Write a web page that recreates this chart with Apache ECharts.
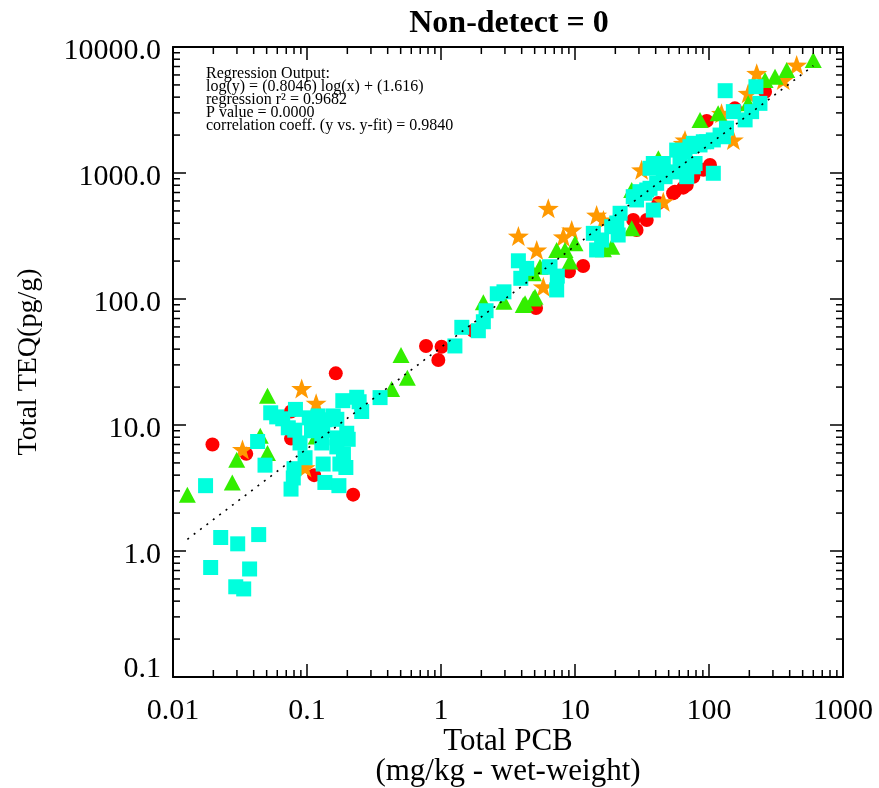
<!DOCTYPE html>
<html><head><meta charset="utf-8">
<script src="https://cdn.jsdelivr.net/npm/echarts@6/dist/echarts.min.js"></script>
<style>html,body{margin:0;padding:0;background:#fff}#c{width:879px;height:788px}</style>
</head><body><div id="c"></div>
<script>
// ---- data ----
const titleText = 'Non-detect = 0';
const xAxisName = 'Total PCB\n(mg/kg - wet-weight)';
const yAxisName = 'Total TEQ(pg/g)';
const xTickLabels = ['0.01','0.1','1','10','100','1000'];
const yTickLabels = ['0.1','1.0','10.0','100.0','1000.0','10000.0'];
const regressionLines = [
  'Regression Output:',
  'log(y) = (0.8046) log(x) + (1.616)',
  'regression r\u00B2 = 0.9682',
  'P value = 0.0000',
  'correlation coeff. (y vs. y-fit) = 0.9840'
];
const slope = 0.8046, intercept = 1.616;

const redCircles = [[0.0197,7.0],[0.0352,5.9],[0.076,12.8],[0.076,7.8],[0.113,4.0],[0.164,25.7],[0.221,2.8],
  [0.773,42.4],[1.01,41.8],[0.955,32.8],[1.74,56],[5.12,84.9],[11.5,183],[9.02,165],[27.2,424],[28.8,353],
  [34.3,424],[41.9,578],[55.7,711],[68.2,803],[90.7,1060],[101.7,1160],[156,3260],[96.1,2590],[262,4420],
  [76.4,935],[64.3,765],[54,690]];

const greenTriangles = [[0.0128,2.8],[0.0277,3.5],[0.0299,5.3],[0.0448,8.2],[0.0507,17.1],[0.0507,6.0],[0.117,8.1],
  [0.428,19.3],[0.503,35.9],[0.561,23.7],[2.07,94.3],[2.95,95.3],[4.11,89.6],[4.89,101],[4.89,160],[5.48,180],
  [7.30,245],[8.42,245],[10.0,277],[9.18,198],[5.03,104],[4.24,92.5],[18.8,260],[16.3,248],[26.5,733],[26.5,364],
  [41.9,1310],[85.7,2640],[117,2980],[196,3570],[262,5470],[311,5810],[380,6560],[600,7890]];

const orangeStars = [[0.033,6.4],[0.0913,19.5],[0.117,14.9],[0.0967,4.6],[3.78,316],[6.32,525],[5.18,245],[5.80,125],
  [8.18,312],[9.45,353],[14.5,464],[16.3,424],[31.4,1060],[45.6,592],[64.3,1720],[152,1830],[66.2,1830],
  [124,2980],[196,4290],[227,6180],[358,5470],[451,7190]];

const cyanSquares = [[0.0175,3.3],[0.0227,1.28],[0.0304,1.14],[0.0436,1.35],[0.0191,0.74],[0.0373,0.72],[0.0294,0.52],[0.0337,0.50],
  [0.0428,7.4],[0.0486,4.8],[0.0536,12.5],[0.0594,11.6],[0.0659,11.2],[0.082,13.3],[0.0725,9.5],[0.081,9.1],
  [0.104,11.4],[0.108,9.0],[0.0887,7.2],[0.0967,5.5],[0.080,4.5],[0.079,3.8],[0.076,3.1],[0.121,11.8],
  [0.136,11.0],[0.157,11.8],[0.167,11.1],[0.129,7.2],[0.132,4.9],[0.136,3.5],[0.167,7.9],[0.198,8.6],
  [0.203,7.7],[0.167,6.7],[0.187,5.9],[0.176,4.9],[0.195,4.6],[0.173,3.3],[0.185,15.6],[0.235,16.6],
  [0.256,12.8],[0.131,9.1],[0.245,15.3],[0.351,16.5],
  [1.27,42.4],[1.43,59.6],[1.90,56.0],[2.07,66.0],[2.17,80.7],[2.63,110],[2.95,114],[3.78,201],[4.36,175],
  [3.94,146],[6.51,180],[7.30,118],[6.43,179],[7.38,152],
  [13.7,332],[15.8,294],[14.5,245],[18.8,375],[21.0,322],[21.7,479],[27.2,649],[30.5,711],[34.3,733],[38.4,508],
  [36.3,1090],[45.6,1020],[20.5,401],[28.8,611],[33.3,690],[36.3,756],[40.7,828],[47.0,935],[55.7,1020],
  [60.8,1190],[38.4,1190],[45.6,1190],[68.2,935],[76.4,1120],[57.4,1520],[76.4,1720],[90.7,1770],[107.7,1830],
  [128,1940],[107.7,995],[78.7,1190],[132,4500],[224,4840],[240,3570],[208,3070],[152,3070],[186,2640],
  [135,2270],[121,2000],[96.1,1770],[85.7,1670],[72.1,1620],[66.2,1480]];

// ---- chart ----
const FONT = '"Liberation Serif","Times New Roman",serif';
const XMIN = 0.01, XMAX = 1000, YMIN = 0.1, YMAX = 10000;

const all = [].concat(redCircles, greenTriangles, orangeStars, cyanSquares);
const fxMin = Math.min.apply(null, all.map(p => p[0]));
const fxMax = Math.max.apply(null, all.map(p => p[0]));
const fit = x => Math.pow(10, intercept + slope * Math.log10(x));
const regLine = [[fxMin, fit(fxMin)], [fxMax, fit(fxMax)]];

// minor tick positions (2..9 in every decade), drawn as short marks on the frame
const minorXb = [], minorXt = [], minorYl = [], minorYr = [];
for (let e = -2; e <= 2; e++) for (let m = 2; m <= 9; m++) { const v = m * Math.pow(10, e); minorXb.push([v, YMIN]); minorXt.push([v, YMAX]); }
for (let e = -1; e <= 3; e++) for (let m = 2; m <= 9; m++) { const v = m * Math.pow(10, e); minorYl.push([XMIN, v]); minorYr.push([XMAX, v]); }
const ML = 7;
const tickSeries = (data, size, offset) => ({
  type:'scatter', data, symbol:'rect', symbolSize:size, symbolOffset:offset, silent:true, clip:false, z:6,
  itemStyle:{color:'#000', opacity:1}, emphasis:{disabled:true}
});

const starPath = 'path://M0,-10 L2.35,-3.24 L9.51,-3.09 L3.8,1.24 L5.88,8.09 L0,4 L-5.88,8.09 L-3.8,1.24 L-9.51,-3.09 L-2.35,-3.24 Z';

const lineSt = {color:'#000', width:2};
const tickSt = {color:'#000', width:1.5};
const decIdx = v => Math.round(Math.log10(v));

const chart = echarts.init(document.getElementById('c'), null, {renderer:'canvas'});
chart.setOption({
  animation: false,
  backgroundColor: '#fff',
  grid: {left:173, right:36, top:47, bottom:111, containLabel:false, outerBoundsMode:'none'},
  xAxis: [{
    type:'log', logBase:10, min:XMIN, max:XMAX, position:'bottom',
    axisLine:{show:true, onZero:false, lineStyle:lineSt},
    axisTick:{show:true, inside:true, length:13, lineStyle:tickSt},
    splitLine:{show:false}, minorTick:{show:false},
    axisLabel:{show:true, margin:19, color:'#000', fontFamily:FONT, fontSize:30,
      formatter: v => xTickLabels[decIdx(v) + 2]},
    name:xAxisName, nameLocation:'middle', nameGap:50, nameMoveOverlap:false,
    nameTextStyle:{color:'#000', fontFamily:FONT, fontSize:31, lineHeight:30, verticalAlign:'top'}
  },{
    type:'log', logBase:10, min:XMIN, max:XMAX, position:'top',
    axisLine:{show:true, onZero:false, lineStyle:lineSt},
    axisTick:{show:true, inside:true, length:13, lineStyle:tickSt},
    splitLine:{show:false}, axisLabel:{show:false}
  }],
  yAxis: [{
    type:'log', logBase:10, min:YMIN, max:YMAX, position:'left',
    axisLine:{show:true, onZero:false, lineStyle:lineSt},
    axisTick:{show:true, inside:true, length:13, lineStyle:tickSt},
    splitLine:{show:false}, minorTick:{show:false},
    axisLabel:{show:true, margin:12, color:'#000', fontFamily:FONT, fontSize:30,
      formatter: v => { const i = decIdx(v) + 1; return (i === 0 ? '{lo|' : '{n|') + yTickLabels[i] + '}'; },
      rich:{
        n:{fontFamily:FONT, fontSize:30, color:'#000', padding:[8,0,0,0]},
        lo:{fontFamily:FONT, fontSize:30, color:'#000', padding:[0,0,16,0]}
      }},
    name:yAxisName, nameLocation:'middle', nameGap:130, nameRotate:90, nameMoveOverlap:false,
    nameTextStyle:{color:'#000', fontFamily:FONT, fontSize:28}
  },{
    type:'log', logBase:10, min:YMIN, max:YMAX, position:'right',
    axisLine:{show:true, onZero:false, lineStyle:lineSt},
    axisTick:{show:true, inside:true, length:13, lineStyle:tickSt},
    splitLine:{show:false}, axisLabel:{show:false}
  }],
  graphic: [
    {type:'text', x:509, y:8, style:{text:titleText, fill:'#000', fontFamily:FONT, fontSize:32, fontWeight:'bold', align:'center', verticalAlign:'top'}},
    {type:'text', x:206, y:67, style:{text:regressionLines.join('\n'), fill:'#000', fontFamily:FONT, fontSize:16, lineHeight:13, align:'left', verticalAlign:'top'}}
  ],
  series: [
    {type:'scatter', name:'circles', data:redCircles, symbol:'circle', symbolSize:14,
     itemStyle:{color:'#ff0000', opacity:1}},
    {type:'scatter', name:'stars', data:orangeStars, symbol:starPath, symbolKeepAspect:true, symbolSize:21,
     itemStyle:{color:'#ff9900', opacity:1}},
    {type:'scatter', name:'triangles', data:greenTriangles, symbol:'triangle', symbolSize:[17,16],
     itemStyle:{color:'#33ee00', opacity:1}},
    {type:'scatter', name:'squares', data:cyanSquares, symbol:'rect', symbolSize:15,
     itemStyle:{color:'#00ffdd', opacity:1}},
    {type:'line', name:'fit', data:regLine, symbol:'none', silent:true, z:5,
     lineStyle:{color:'#000', width:1.6, type:[2,6]}},
    tickSeries(minorXb, [1.5, ML], [0, -ML/2]),
    tickSeries(minorXt, [1.5, ML], [0, ML/2]),
    tickSeries(minorYl, [ML, 1.5], [ML/2, 0]),
    tickSeries(minorYr, [ML, 1.5], [-ML/2, 0])
  ]
});
</script></body></html>
